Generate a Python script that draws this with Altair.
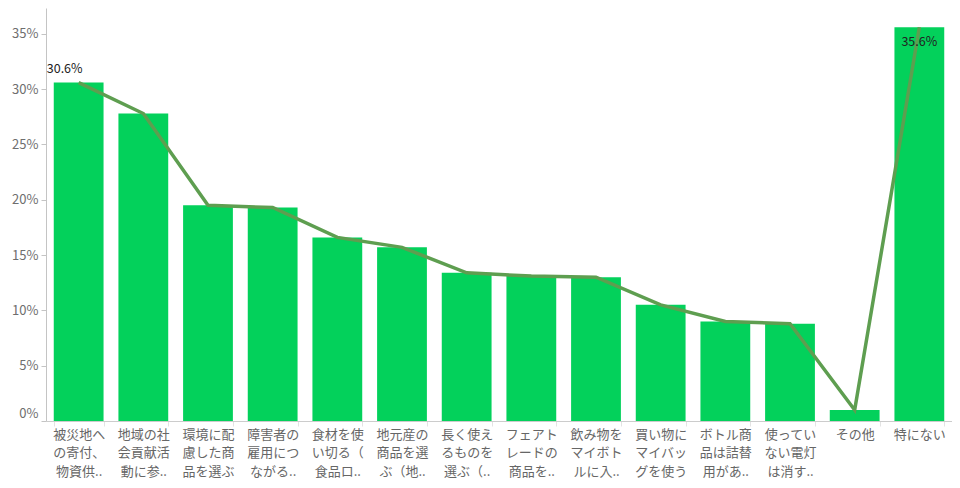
import altair as alt
import pandas as pd

categories = [
    "被災地へ\nの寄付、\n物資供..",
    "地域の社\n会貢献活\n動に参..",
    "環境に配\n慮した商\n品を選ぶ",
    "障害者の\n雇用につ\nながる..",
    "食材を使\nい切る（\n食品ロ..",
    "地元産の\n商品を選\nぶ（地..",
    "長く使え\nるものを\n選ぶ（..",
    "フェアト\nレードの\n商品を..",
    "飲み物を\nマイボト\nルに入..",
    "買い物に\nマイバッ\nグを使う",
    "ボトル商\n品は詰替\n用があ..",
    "使ってい\nない電灯\nは消す..",
    "その他",
    "特にない",
]
values = [0.306, 0.278, 0.195, 0.193, 0.166, 0.157, 0.134, 0.131, 0.130, 0.105, 0.090, 0.088, 0.010, 0.356]
y_ticks = [0, 0.05, 0.10, 0.15, 0.20, 0.25, 0.30, 0.35]

df = pd.DataFrame({"cat": categories, "val": values, "idx": list(range(len(values)))})

FONT = "Noto Sans CJK JP"
order = categories

x_enc = alt.X(
    "cat:N",
    sort=order,
    scale=alt.Scale(paddingInner=0.23, paddingOuter=0.12),
    axis=alt.Axis(
        title=None,
        labelAngle=0,
        labelExpr="split(datum.label, '\\n')",
        labelLineHeight=18.5,
        labelFontSize=13,
        labelColor="#666666",
        labelFont=FONT,
        labelPadding=2,
        tickBand="extent",
        tickColor="#e3e3e3",
        tickSize=5,
        domainColor="#cccccc",
        labelLimit=200,
    ),
)
y_enc = alt.Y(
    "val:Q",
    scale=alt.Scale(domain=[0, 0.3734], nice=False),
    axis=alt.Axis(
        title=None,
        values=y_ticks,
        format=".0%",
        labelFontSize=13,
        labelColor="#6e6e6e",
        labelFont=FONT,
        labelOffset=alt.condition("datum.value == 0", alt.value(-8), alt.value(0)),
        tickColor="#c4c4c4",
        tickSize=5,
        domainColor="#c4c4c4",
        grid=False,
        labelPadding=3,
    ),
)

base = alt.Chart(df)
bars = base.mark_bar(color="#03D15B").encode(x=x_enc, y=y_enc)
line = base.mark_line(color="#5E9E50", strokeWidth=3.5).encode(x=alt.X("cat:N", sort=order), y="val:Q")
txt_first = base.transform_filter("datum.idx == 0").mark_text(
    fontSize=12.5, font=FONT, color="#222222", dx=-14, dy=-14
).encode(x=alt.X("cat:N", sort=order), y="val:Q", text=alt.Text("val:Q", format=".1%"))
txt_last = base.transform_filter("datum.idx == 13").mark_text(
    fontSize=12.5, font=FONT, color="#222222", dy=15
).encode(x=alt.X("cat:N", sort=order), y="val:Q", text=alt.Text("val:Q", format=".1%"))

chart = (
    alt.layer(bars, line, txt_first, txt_last)
    .properties(
        width=906,
        height=413,
        autosize=alt.AutoSizeParams(type="none"),
        padding={"left": 38, "top": 0, "right": 0, "bottom": 59},
    )
    .configure_view(stroke=None)
)

chart.save("out.html", embed_options={"renderer": "svg", "actions": False})
